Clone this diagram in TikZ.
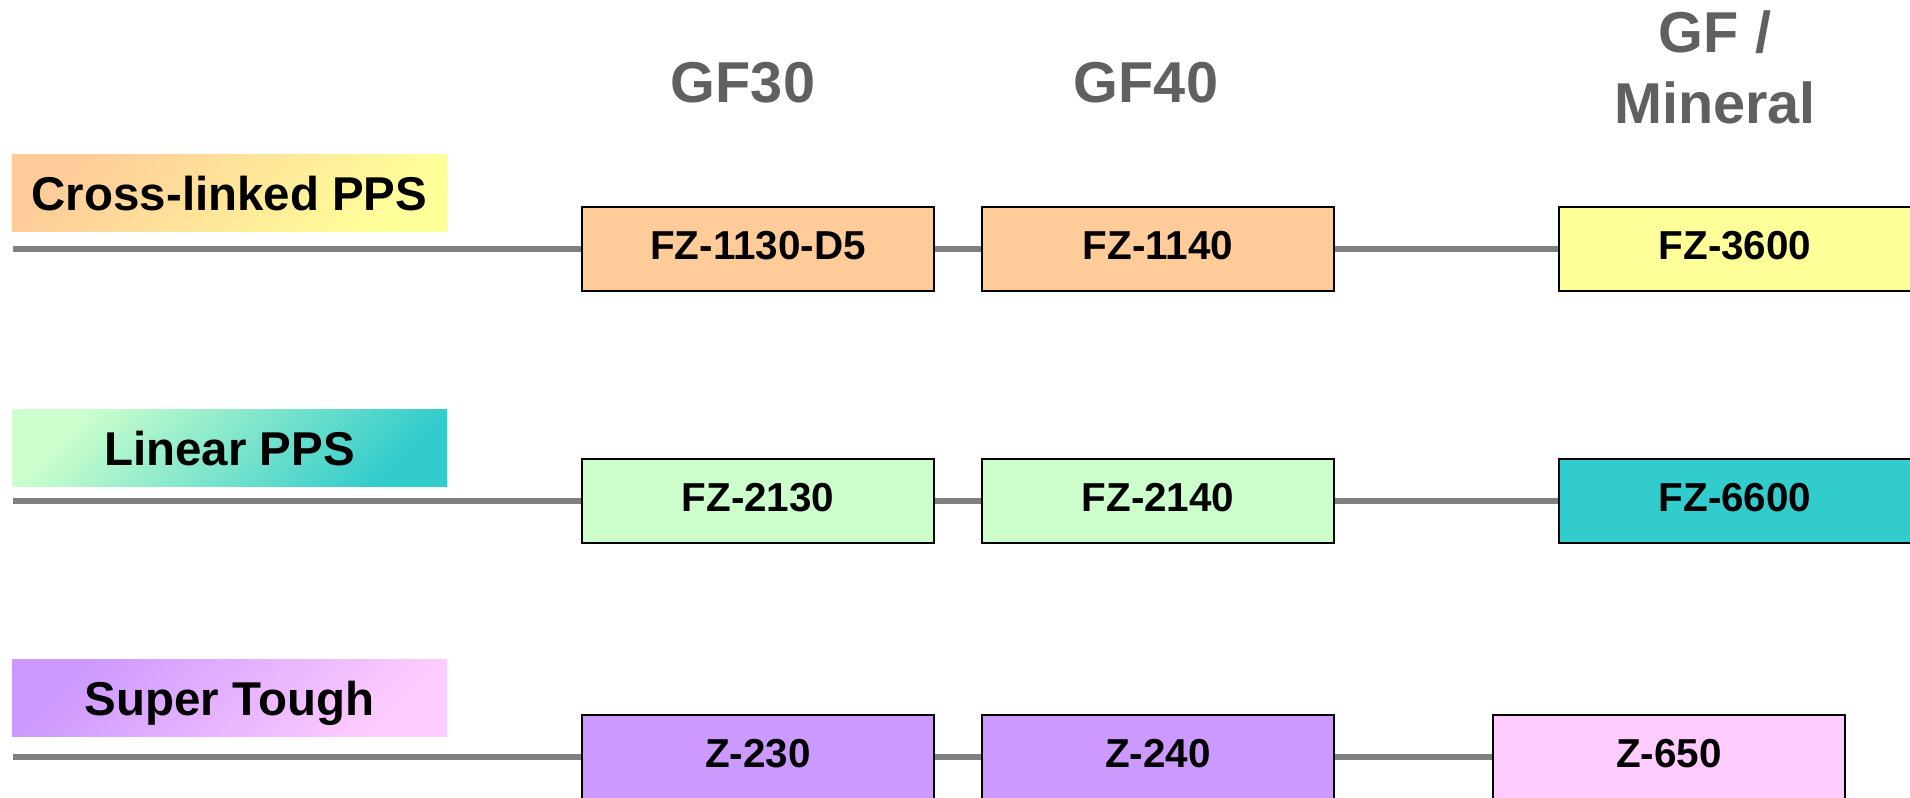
\documentclass[tikz,border=0pt]{standalone}
\usepackage{fontspec}
\setmainfont{Liberation Sans}

\definecolor{peach}{HTML}{FFCC99}
\definecolor{lemon}{HTML}{FFFF99}
\definecolor{mint}{HTML}{CCFFCC}
\definecolor{teal}{HTML}{33CCCC}
\definecolor{lilac}{HTML}{CC99FF}
\definecolor{blush}{HTML}{FFCCFF}
\definecolor{linegray}{HTML}{808080}
\definecolor{headgray}{HTML}{606060}

\tikzset{
  grade/.style={draw=black, line width=0.5pt, inner sep=0pt,
    minimum width=3.52cm, minimum height=0.84cm,
    text height=8.6pt, text depth=2.9pt,
    font=\fontsize{11.5}{13}\selectfont\bfseries},
  family/.style={inner sep=0pt, minimum width=4.35cm, minimum height=0.77cm,
    text height=12.7pt, text depth=3pt,
    font=\fontsize{13.5}{16}\selectfont\bfseries},
  filler/.style={draw=linegray, line width=1.5pt},
  heading/.style={text=headgray, align=center, anchor=base,
    font=\fontsize{16.4}{20.2}\selectfont\bfseries}
}

\begin{document}
\begin{tikzpicture}
\useasboundingbox (0,0) rectangle (19.10,-7.98);

% Column headings
\path
(7.43,-1.03) node[heading] (gf30) {GF30}
(11.46,-1.03) node[heading] (gf40) {GF40}
(17.15,-1.24) node[heading] (gfmin) {GF /\\Mineral};


% Cross-linked PPS row
\path
(2.295,-1.93) node[family, left color=peach, right color=lemon, shading angle=45] (xfam) {Cross-linked PPS}
(7.58,-2.49) node[grade, fill=peach] (x30) {FZ-1130-D5}
(11.58,-2.49) node[grade, fill=peach] (x40) {FZ-1140}
(17.35,-2.49) node[grade, fill=lemon] (xmin) {FZ-3600};
\coordinate (xstart) at (0.13,-2.49);

\draw[filler] (xstart) -- (x30.west);
\draw[filler] (x30.east) -- (x40.west);
\draw[filler] (x40.east) -- (xmin.west);


% Linear PPS row
\path
(2.295,-4.485) node[family, left color=mint, right color=teal, shading angle=45] (lfam) {Linear PPS}
(7.58,-5.01) node[grade, fill=mint] (l30) {FZ-2130}
(11.58,-5.01) node[grade, fill=mint] (l40) {FZ-2140}
(17.35,-5.01) node[grade, fill=teal] (lmin) {FZ-6600};
\coordinate (lstart) at (0.13,-5.01);

\draw[filler] (lstart) -- (l30.west);
\draw[filler] (l30.east) -- (l40.west);
\draw[filler] (l40.east) -- (lmin.west);


% Super Tough row
\path
(2.295,-6.98) node[family, left color=lilac, right color=blush, shading angle=45] (sfam) {Super Tough}
(7.58,-7.57) node[grade, fill=lilac] (s30) {Z-230}
(11.58,-7.57) node[grade, fill=lilac] (s40) {Z-240}
(16.69,-7.57) node[grade, fill=blush] (smin) {Z-650};
\coordinate (sstart) at (0.13,-7.57);

\draw[filler] (sstart) -- (s30.west);
\draw[filler] (s30.east) -- (s40.west);
\draw[filler] (s40.east) -- (smin.west);

\end{tikzpicture}
\end{document}
